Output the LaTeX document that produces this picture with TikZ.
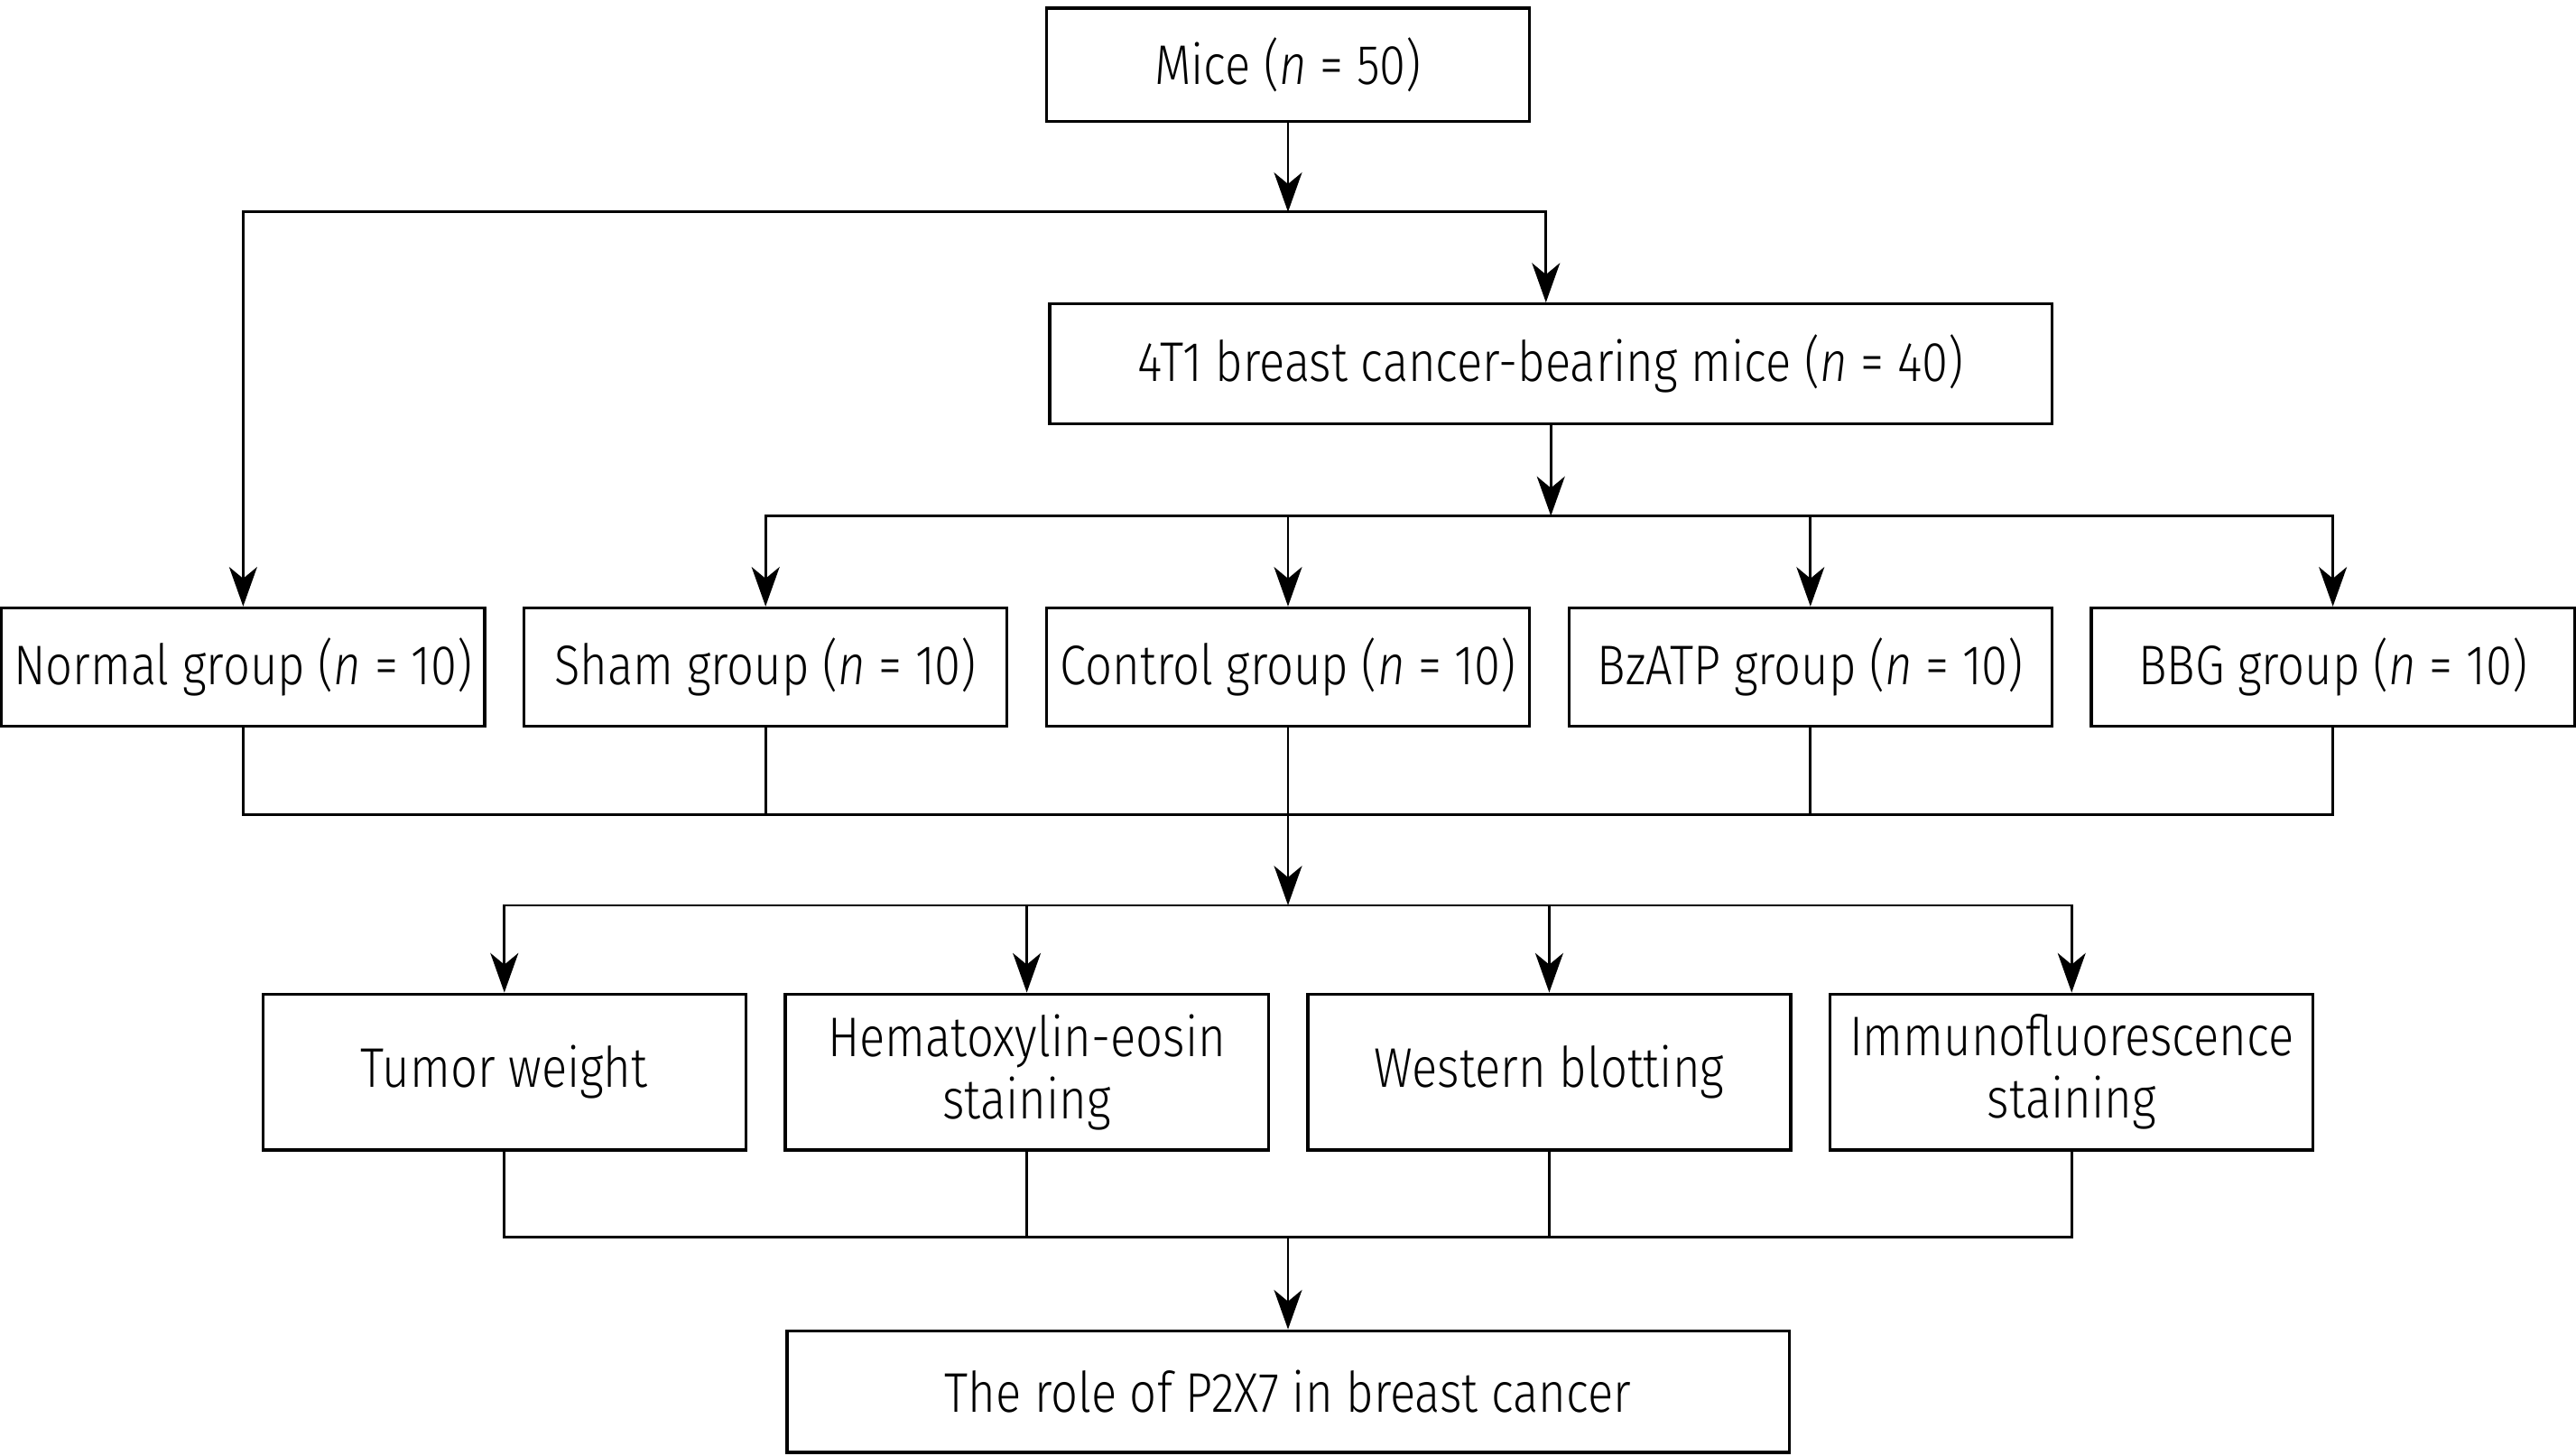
\documentclass[tikz,border=0pt]{standalone}
\usepackage{fontspec}
\setmainfont{Fira Sans}[FakeStretch=0.85, UprightFont=* Light, ItalicFont=* Light Italic]
\usetikzlibrary{arrows.meta}
\tikzset{
  box/.style={draw, line width=1.8pt, minimum width=294pt, minimum height=72pt, inner sep=0pt, align=center, font=\fontsize{34}{38}\selectfont},
  wide/.style={box, minimum width=610pt},
  tall/.style={box, minimum height=95pt},
  conn/.style={line width=1.5pt},
  arr/.style={conn, -{Stealth[length=24pt, width=17pt, inset=7pt]}}
}
\begin{document}
\begin{tikzpicture}[x=1pt, y=-1pt]
\useasboundingbox (0,0) rectangle (1568,886);
\node[box, minimum height=69pt] (mice) at (784,39.5) {Mice (\textit{n} = 50)};
\node[wide, minimum height=73pt] (t41) at (944,221.5) {4T1 breast cancer-bearing mice (\textit{n} = 40)};
\node[box] (normal) at (148,406) {Normal group (\textit{n} = 10)};
\node[box] (sham) at (466,406) {Sham group (\textit{n} = 10)};
\node[box] (control) at (784,406) {Control group (\textit{n} = 10)};
\node[box] (bzatp) at (1102,406) {BzATP group (\textit{n} = 10)};
\node[box] (bbg) at (1420,406) {BBG group (\textit{n} = 10)};
\node[tall] (tumor) at (307,652.5) {Tumor weight};
\node[tall] (he) at (625,652.5) {Hematoxylin-eosin\\staining};
\node[tall] (wb) at (943,652.5) {Western blotting};
\node[tall] (immuno) at (1261,652.5) {Immunofluorescence\\staining};
\node[wide, minimum height=74pt] (role) at (784,847) {The role of P2X7 in breast cancer};

\coordinate (j1) at (784,129);
\coordinate (j2) at (944,314);
\coordinate (j3) at (784,496);
\coordinate (j4) at (784,551);
\coordinate (j5) at (784,753);

\draw[arr] (mice) -- (j1);
\draw[arr] (j1) -| (normal);
\draw[arr] (j1) -| ([xshift=-3pt]t41.north);
\draw[arr] (t41) -- (j2);
\draw[arr] (j2) -| (sham);
\draw[arr] (j2) -| (control);
\draw[arr] (j2) -| (bzatp);
\draw[arr] (j2) -| (bbg);

\draw[conn] (normal) |- (j3);
\draw[conn] (sham) |- (j3);
\draw[conn] (control) -- (j3);
\draw[conn] (bzatp) |- (j3);
\draw[conn] (bbg) |- (j3);
\draw[arr] (j3) -- (j4);
\draw[arr] (j4) -| (tumor);
\draw[arr] (j4) -| (he);
\draw[arr] (j4) -| (wb);
\draw[arr] (j4) -| (immuno);

\draw[conn] (tumor) |- (j5);
\draw[conn] (he) |- (j5);
\draw[conn] (wb) |- (j5);
\draw[conn] (immuno) |- (j5);
\draw[arr] (j5) -- (role);
\end{tikzpicture}
\end{document}
